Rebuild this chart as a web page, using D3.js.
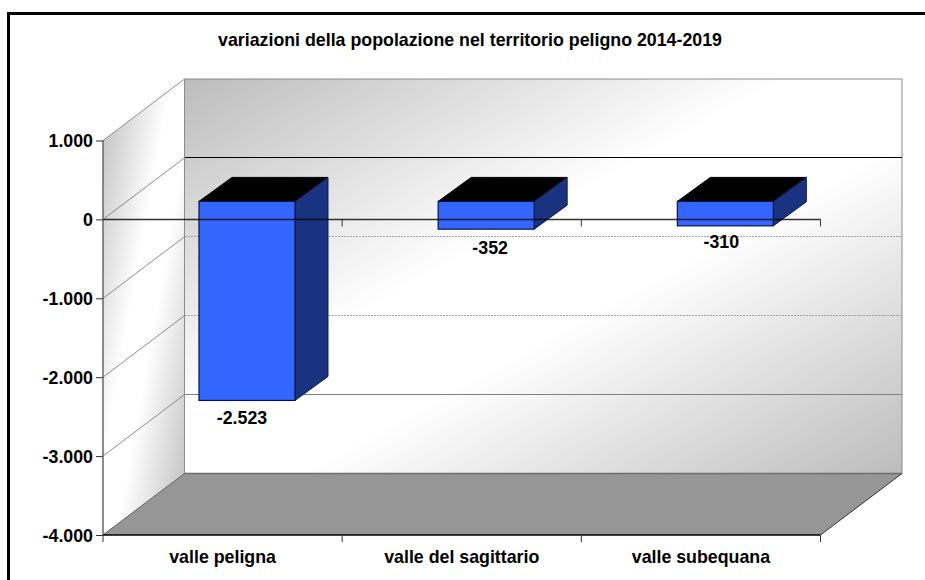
<!DOCTYPE html>
<html>
<head>
<meta charset="utf-8">
<script src="https://cdnjs.cloudflare.com/ajax/libs/d3/7.8.5/d3.min.js"></script>
<style>
  body { margin: 0; background: #fff; }
  text { font-family: "Liberation Sans", Arial, sans-serif; font-weight: bold; fill: #000; }
</style>
</head>
<body>
<svg id="chart" width="925" height="580"></svg>
<script>
var chartTitle = 'variazioni della popolazione nel territorio peligno 2014-2019';
var categories = ['valle peligna', 'valle del sagittario', 'valle subequana'];
var values = [-2523, -352, -310];
var valueLabels = ['-2.523', '-352', '-310'];
var tickValues = [1000, 0, -1000, -2000, -3000, -4000];
var tickLabels = ['1.000', '0', '-1.000', '-2.000', '-3.000', '-4.000'];

var svg = d3.select('#chart');

// front plane and how far the walls go back
var x = d3.scaleBand().domain(categories).range([103, 820.5]);
var y = d3.scaleLinear().domain([-4000, 1000]).range([535, 140.5]);
var depthX = 81.5, depthY = -61.5;
var barDx = 24.4, barDy = -18, barW = 96, barDepthX = 33, barDepthY = -24;

var left = x.range()[0], right = x.range()[1];
var top1 = y(1000), bottom = y(-4000);

var defs = svg.append('defs');
function diag(id, edge) {
  var g = defs.append('linearGradient').attr('id', id)
    .attr('x1', 0).attr('y1', 0).attr('x2', 1).attr('y2', 1);
  [[0, edge], [0.42, '#ffffff'], [0.58, '#ffffff'], [1, edge]].forEach(function (s) {
    g.append('stop').attr('offset', s[0]).attr('stop-color', s[1]);
  });
}
diag('backFill', '#bcbcbc');
diag('sideFill', '#bcbcbc');

function poly(pts) {
  return pts.map(function (p) { return p.join(','); }).join(' ');
}

// frame
svg.append('path')
  .attr('d', 'M8.5,580V13.5H925')
  .attr('fill', 'none').attr('stroke', '#000').attr('stroke-width', 3);

svg.append('text').attr('x', 470).attr('y', 46)
  .attr('text-anchor', 'middle').style('font-size', '17.8px').text(chartTitle);

// walls
svg.append('rect')
  .attr('x', left + depthX).attr('y', top1 + depthY)
  .attr('width', right - left).attr('height', bottom - top1)
  .attr('fill', 'url(#backFill)').attr('stroke', '#8c8c8c');
svg.append('polygon')
  .attr('points', poly([[left, top1], [left + depthX, top1 + depthY], [left + depthX, bottom + depthY], [left, bottom]]))
  .attr('fill', 'url(#sideFill)').attr('stroke', '#8c8c8c');
svg.append('polygon')
  .attr('points', poly([[left, bottom], [left + depthX, bottom + depthY], [right + depthX, bottom + depthY], [right, bottom]]))
  .attr('fill', '#969696');
svg.append('path')
  .attr('d', 'M' + (left + depthX) + ',' + (bottom + depthY) + 'H' + (right + depthX))
  .attr('stroke', '#6e6e6e').attr('stroke-width', 1.5);
svg.append('path')
  .attr('d', 'M' + right + ',' + bottom + 'L' + (right + depthX) + ',' + (bottom + depthY))
  .attr('stroke', '#333');

// gridlines: slanted part on the side wall, level part on the back wall
var grid = tickValues.filter(function (d) { return d !== 1000 && d !== -4000; });
svg.append('g').selectAll('path').data(grid).enter().append('path')
  .attr('d', function (d) {
    return 'M' + left + ',' + y(d) + 'L' + (left + depthX) + ',' + (y(d) + depthY);
  })
  .attr('stroke', '#8a8a8a');
svg.append('g').attr('shape-rendering', 'crispEdges').selectAll('path').data(grid).enter().append('path')
  .attr('d', function (d) {
    return 'M' + (left + depthX) + ',' + (y(d) + depthY) + 'H' + (right + depthX);
  })
  .attr('stroke', function (d) { return d === 0 ? '#000' : d === -3000 ? '#808080' : '#a4a4a4'; })
  .attr('stroke-dasharray', function (d) { return d === -1000 || d === -2000 ? '2 1' : null; });
svg.append('path')
  .attr('d', 'M' + left + ',' + bottom + 'L' + (left + depthX) + ',' + (bottom + depthY))
  .attr('stroke', '#6e6e6e');

// bars: front, top, side
var bars = svg.append('g').selectAll('g').data(values).enter().append('g');
function barX(d, i) { return x(categories[i]) + x.bandwidth() / 2 + barDx - barW / 2; }

bars.append('polygon')
  .attr('points', function (d, i) {
    var x0 = barX(d, i), yt = y(0) + barDy;
    return poly([[x0, yt], [x0 + barDepthX, yt + barDepthY], [x0 + barW + barDepthX, yt + barDepthY], [x0 + barW, yt]]);
  })
  .attr('fill', '#000').attr('stroke', '#000');
bars.append('polygon')
  .attr('points', function (d, i) {
    var x0 = barX(d, i) + barW, yt = y(0) + barDy, yb = y(d) + barDy;
    return poly([[x0, yt], [x0 + barDepthX, yt + barDepthY], [x0 + barDepthX, yb + barDepthY], [x0, yb]]);
  })
  .attr('fill', '#1a3380').attr('stroke', '#0b1640');
bars.append('rect')
  .attr('x', barX)
  .attr('y', y(0) + barDy)
  .attr('width', barW)
  .attr('height', function (d) { return y(d) - y(0); })
  .attr('fill', '#3366ff').attr('stroke', '#0b1640').attr('stroke-width', 1.2);

// value labels sit just below each bar
var labelOffsetX = [-5, 4, -4], labelOffsetY = [24, 25, 22];
svg.append('g').selectAll('text').data(values).enter().append('text')
  .attr('x', function (d, i) { return barX(d, i) + barW / 2 + labelOffsetX[i]; })
  .attr('y', function (d, i) { return y(d) + barDy + labelOffsetY[i]; })
  .attr('text-anchor', 'middle').style('font-size', '17.8px')
  .text(function (d, i) { return valueLabels[i]; });

// zero line crosses over the bars, with its ticks at the category edges
var zeroAxis = svg.append('g').attr('transform', 'translate(0,' + y(0) + ')');
zeroAxis.append('path')
  .attr('d', 'M' + left + ',0H' + right)
  .attr('stroke', '#000').attr('stroke-opacity', 0.8).attr('stroke-width', 1.5);
var edges = categories.slice(1).map(function (c) { return x(c); }).concat([right]);
zeroAxis.selectAll('line').data(edges).enter().append('line')
  .attr('x1', function (d) { return d; }).attr('x2', function (d) { return d; })
  .attr('y1', 0).attr('y2', 7).attr('stroke', '#333');

// y axis
var yAxis = svg.append('g').attr('transform', 'translate(' + left + ',0)')
  .call(d3.axisLeft(y).tickValues(tickValues).tickSize(7)
    .tickFormat(function (d, i) { return tickLabels[i]; }));
yAxis.selectAll('line').attr('stroke', '#333');
yAxis.select('.domain').attr('stroke', '#555').attr('d', 'M0,' + top1 + 'V' + bottom);
yAxis.selectAll('text').attr('x', -10).attr('dy', '0.36em').style('font-size', '17.8px');
yAxis.attr('font-family', null).attr('font-size', null);

// x axis
var xAxis = svg.append('g').attr('transform', 'translate(0,' + bottom + ')')
  .call(d3.axisBottom(x).tickSize(0));
xAxis.select('.domain').attr('stroke', '#000').attr('stroke-width', 1.5).attr('d', 'M' + left + ',0H' + right);
xAxis.selectAll('text').attr('y', 22).attr('dy', '0.36em').style('font-size', '17.8px');
xAxis.attr('font-family', null).attr('font-size', null);
var xTicks = categories.map(function (c) { return x(c); }).concat([right]);
xAxis.selectAll('.sep').data(xTicks).enter().append('line').attr('class', 'sep')
  .attr('x1', function (d) { return d; }).attr('x2', function (d) { return d; })
  .attr('y1', 0).attr('y2', 7).attr('stroke', '#333');
</script>
</body>
</html>
